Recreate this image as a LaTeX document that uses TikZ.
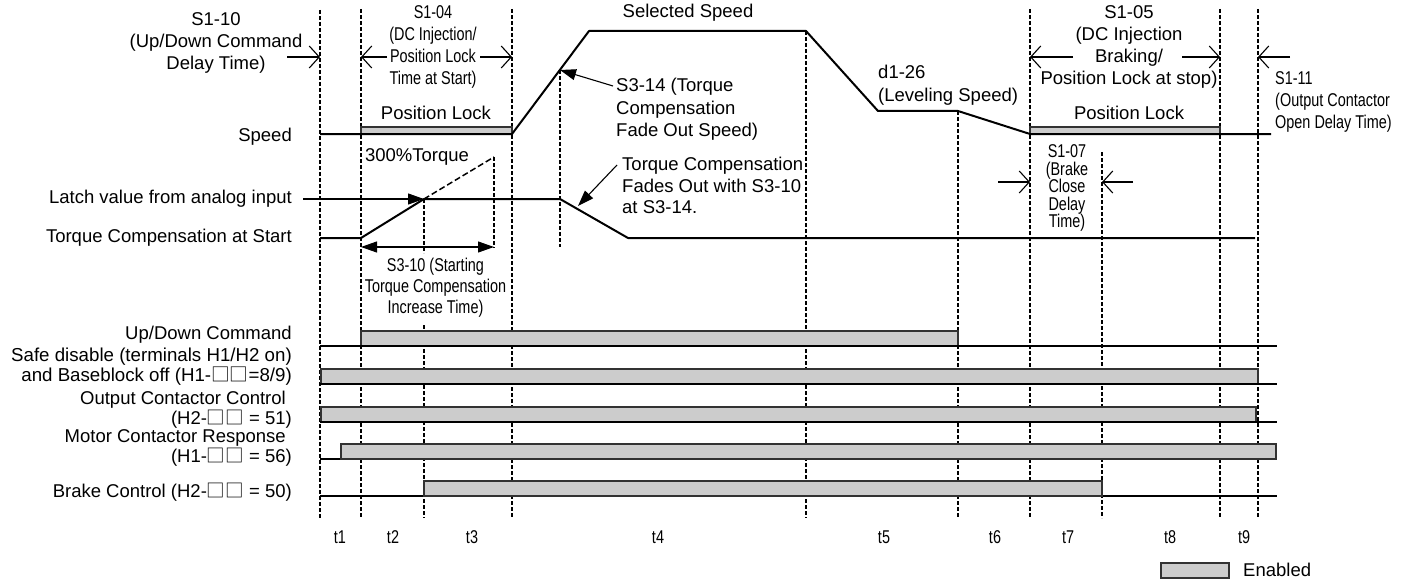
\documentclass[tikz,border=0pt]{standalone}
\usepackage{fontspec}
\setmainfont{Liberation Sans}
\newfontfamily\narrowfont[FakeStretch=0.78]{Liberation Sans}
\newfontfamily\cjkbox{Noto Sans CJK JP}
\newcommand{\bx}{{\cjkbox □□}}
\usetikzlibrary{arrows.meta}
\definecolor{barfill}{RGB}{204,204,204}
\definecolor{bardraw}{RGB}{50,50,50}
\begin{document}
\begin{tikzpicture}[x=1pt,y=-1pt,
  lbl/.style={font=\fontsize{18.5}{22}\selectfont, inner sep=0pt},
  nlbl/.style={font=\narrowfont\fontsize{18.5}{21}\selectfont, inner sep=0pt},
  vdash/.style={line width=1.5pt, dash pattern=on 4pt off 2pt},
  sig/.style={line width=1.5pt},
  wave/.style={line width=2pt, line join=round},
  bar/.style={fill=barfill, draw=bardraw, line width=1.5pt},
  tarrow/.style={line width=1.1pt, -{Straight Barb[length=10pt,width=22pt]}},
  farrow/.style={line width=1.1pt, -{Triangle[length=16pt,width=11pt]}},
]
\useasboundingbox (0,0) rectangle (1412,583);

% vertical time lines
\foreach \x/\ya in {320/10, 361/9, 512/9, 806/31, 958/111, 1030/9, 1102/152, 1220/9, 1258/9}
  \draw[vdash] (\x,\ya) -- (\x,518);
\draw[vdash] (424,199) -- (424,253);
\draw[vdash] (424,325) -- (424,518);
\draw[vdash] (494,157) -- (494,248);
\draw[vdash] (560,70) -- (560,247);

% position lock bars on speed
\draw[bar, line width=1.2pt] (361,127) rectangle (512,134);
\draw[bar, line width=1.2pt] (1030,127) rectangle (1220,134);

% speed
\draw[wave] (320,134) -- (512,134) -- (589,31) -- (806,31) -- (878,111) -- (958,111) -- (1030,134) -- (1271,134);

% torque
\draw[wave] (320,238) -- (361,238) coordinate (tq0) -- (424,199) coordinate (tqx) -- (560,199) -- (628,238) -- (1255,238);
\draw[line width=1.5pt, dash pattern=on 6pt off 3pt] (tqx) -- (494,157) coordinate (tqtop);

% left labels
\node[lbl, anchor=east] (lspeed) at (292,137) {Speed};
\node[lbl, anchor=east] (llatch) at (292,199) {Latch value from analog input};
\node[lbl, anchor=east] (ltorque) at (292,238) {Torque Compensation at Start};
\node[lbl, anchor=east] (lupdown) at (292,335) {Up/Down Command};
\node[lbl, anchor=east, align=right, font=\fontsize{18.7}{20}\selectfont] (lsafe) at (292,367) {Safe disable (terminals H1/H2 on)\\and Baseblock off (H1-\bx=8/9)};
\node[lbl, anchor=east, align=right, font=\fontsize{18.5}{19.5}\selectfont] (loutput) at (292,409.5) {Output Contactor Control\hspace{6pt}\mbox{}\\(H2-\bx \ = 51)};
\node[lbl, anchor=east, align=right, font=\fontsize{18.5}{20}\selectfont] (lmotor) at (292,448) {Motor Contactor Response\hspace{6pt}\mbox{}\\(H1-\bx \ = 56)};
\node[lbl, anchor=east] (lbrake) at (292,492) {Brake Control (H2-\bx \ = 50)};

% latch arrow
\coordinate (latchstart) at (303,199);
\draw[farrow] (latchstart) -- (tqx);

% annotations
\node[lbl, align=center] (s110) at (216,42.5) {S1-10\\(Up/Down Command\\Delay Time)};
\draw[tarrow] (287,57) -- (320,57);

\node[nlbl, align=center, font=\narrowfont\fontsize{18.5}{22}\selectfont] (s104) at (433,46.5) {S1-04\\(DC Injection/\\Position Lock\\Time at Start)};
\draw[tarrow] (387,57) -- (361,57);
\draw[tarrow] (480,57) -- (512,57);

\node[lbl] (plock1) at (436,113) {Position Lock};
\node[lbl] (plock2) at (1129,113) {Position Lock};
\node[lbl] (selspeed) at (688,13) {Selected Speed};
\node[lbl] (t300) at (417,157) {300\%Torque};

\node[lbl, anchor=west, align=left, font=\fontsize{18.5}{22.5}\selectfont] (s314) at (616,109.5) {S3-14 (Torque\\Compensation\\Fade Out Speed)};
\coordinate (s314tip) at (560,70);
\draw[farrow] (613,86) -- (s314tip);

\node[lbl, anchor=west, align=left, font=\fontsize{18.5}{21.5}\selectfont] (fade) at (622,185.5) {Torque Compensation\\Fades Out with S3-10\\at S3-14.};
\draw[farrow] (617,165) -- (578,206);

\draw[line width=1.1pt, {Triangle[length=16pt,width=11pt]}-{Triangle[length=16pt,width=11pt]}] (361,247) -- (494,247);
\node[nlbl, align=center] (s310) at (435.5,288) {S3-10 (Starting\\Torque Compensation\\Increase Time)};

\node[lbl, anchor=west, align=left, font=\fontsize{18.5}{23}\selectfont] (d126) at (878,85.5) {d1-26\\(Leveling Speed)};

\node[lbl, align=center] (s105) at (1129,47) {S1-05\\(DC Injection\\Braking/\\Position Lock at stop)};
\draw[tarrow] (1073,57) -- (1030,57);
\draw[tarrow] (1182,57) -- (1220,57);

\node[nlbl, anchor=west, align=left, font=\narrowfont\fontsize{18.5}{22}\selectfont] (s111) at (1275,102) {S1-11\\(Output Contactor\\Open Delay Time)};
\draw[tarrow] (1290,57) -- (1258,57);

\node[nlbl, align=center, font=\narrowfont\fontsize{18.5}{17.5}\selectfont] (s107) at (1067,188) {S1-07\\(Brake\\Close\\Delay\\Time)};
\draw[tarrow] (998,182) -- (1030,182);
\draw[tarrow] (1133,182) -- (1102,182);

% signal rows
\filldraw[bar] (361,331) rectangle (958,346);
\draw[sig] (320,346) -- (1277,346);
\filldraw[bar] (321,369) rectangle (1258,384);
\draw[sig] (320,384) -- (1277,384);
\filldraw[bar] (321,407) rectangle (1256,422);
\draw[sig] (320,422) -- (1277,422);
\draw[sig] (320,459) -- (341,459);
\filldraw[bar] (341,444) rectangle (1276,459);
\draw[sig] (320,496) -- (1277,496);
\filldraw[bar] (424,481) rectangle (1102,496);

% time labels
\foreach \x/\t in {340/t1, 393/t2, 472/t3, 658/t4, 884/t5, 995/t6, 1068/t7, 1170/t8, 1244/t9}
  \node[nlbl] (lab\t) at (\x,537) {\t};

% legend
\filldraw[bar] (1161,563) rectangle (1229,578);
\node[lbl, anchor=west] (enabled) at (1243,570) {Enabled};
\end{tikzpicture}
\end{document}
